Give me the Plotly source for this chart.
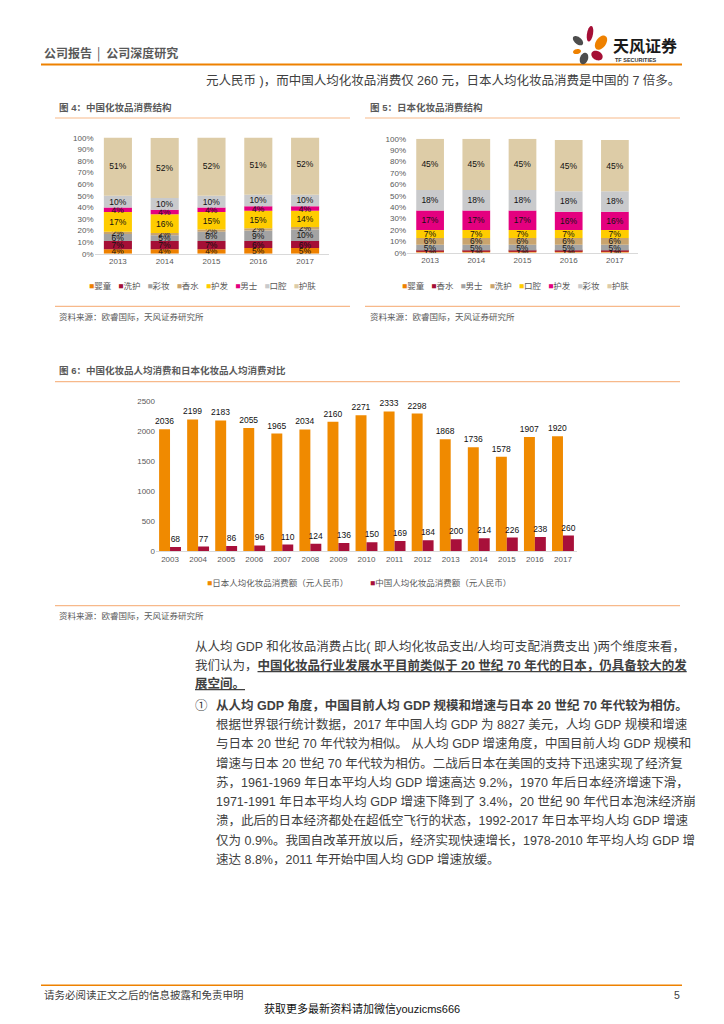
import math
import plotly.graph_objects as go

W, H = 724, 1024
def X(px): return px / W
def Y(py): return 1 - py / H

FONT = "Liberation Sans, Noto Sans CJK SC, sans-serif"

# ---------------- data ----------------
years5 = ["2013", "2014", "2015", "2016", "2017"]

# Figure 4: China consumption structure (%), stacked bottom -> top
cn_names = ["婴童", "洗护", "彩妆", "香水", "护发", "男士", "口腔", "护肤"]
cn_baby = [4, 4, 4, 5, 5]
cn_wash = [7, 7, 7, 6, 6]
cn_makeup = [6, 5, 8, 9, 10]
cn_perfume = [2, 2, 2, 2, 2]
cn_hair = [17, 16, 15, 15, 14]
cn_men = [4, 4, 4, 4, 4]
cn_oral = [10, 10, 10, 10, 10]
cn_skin = [51, 52, 52, 51, 52]

# Figure 5: Japan consumption structure (%), stacked bottom -> top
jp_names = ["婴童", "香水", "男士", "洗护", "口腔", "护发", "彩妆", "护肤"]
jp_baby = [1, 1, 1, 1, 1]
jp_perfume = [1, 1, 1, 1, 1]
jp_men = [5, 5, 5, 5, 5]
jp_wash = [6, 6, 6, 6, 6]
jp_oral = [7, 7, 7, 7, 7]
jp_hair = [17, 17, 17, 16, 16]
jp_makeup = [18, 18, 18, 18, 18]
jp_skin = [45, 45, 45, 45, 45]

# Figure 6: per-capita cosmetics spending (RMB)
years15 = [str(y) for y in range(2003, 2018)]
japan_spend = [2036, 2199, 2183, 2055, 1965, 2034, 2160, 2271, 2333, 2298, 1868, 1736, 1578, 1907, 1920]
china_spend = [68, 77, 86, 96, 110, 124, 136, 150, 169, 184, 200, 214, 226, 238, 260]

pct_ticks = [0, 10, 20, 30, 40, 50, 60, 70, 80, 90, 100]
pct_labels = ["0%", "10%", "20%", "30%", "40%", "50%", "60%", "70%", "80%", "90%", "100%"]
spend_ticks = [0, 500, 1000, 1500, 2000, 2500]

# ---------------- styles ----------------
seg_colors = ["#EE8100", "#A50F36", "#A3A3A3", "#C9A46E", "#FFCC00", "#E4007F", "#C9CACC", "#DDCCA7"]
JP_COLOR = "#F08A00"
CN_COLOR = "#A8103A"
GRAY_TXT = "#595959"
LINE_ORANGE = "#F7B98A"

fig = go.Figure()

cn_series = [cn_baby, cn_wash, cn_makeup, cn_perfume, cn_hair, cn_men, cn_oral, cn_skin]
for name, vals, col in zip(cn_names, cn_series, seg_colors):
    fig.add_trace(go.Bar(x=years5, y=vals, name=name, marker=dict(color=col, line=dict(width=0)),
                         texttemplate="%{y:.0f}%", textposition="inside", insidetextanchor="middle",
                         textangle=0, textfont=dict(size=8.5, color="#111", family=FONT),
                         xaxis="x", yaxis="y", showlegend=False, width=0.6))

jp_series = [jp_baby, jp_perfume, jp_men, jp_wash, jp_oral, jp_hair, jp_makeup, jp_skin]
for name, vals, col in zip(jp_names, jp_series, seg_colors):
    fig.add_trace(go.Bar(x=years5, y=vals, name=name, marker=dict(color=col, line=dict(width=0)),
                         texttemplate="%{y:.0f}%", textposition="inside", insidetextanchor="middle",
                         textangle=0, textfont=dict(size=8.5, color="#111", family=FONT),
                         xaxis="x2", yaxis="y2", showlegend=False, width=0.6))

fig.add_trace(go.Bar(x=years15, y=japan_spend, name="日本人均化妆品消费额（元人民币）",
                     marker=dict(color=JP_COLOR, line=dict(width=0)),
                     text=japan_spend, textposition="outside", textangle=0, cliponaxis=False,
                     textfont=dict(size=8.5, color="#111", family=FONT),
                     xaxis="x3", yaxis="y3", showlegend=False, offsetgroup="jp",
                     offset=-0.39, width=0.39))
fig.add_trace(go.Bar(x=years15, y=china_spend, name="中国人均化妆品消费额（元人民币）",
                     marker=dict(color=CN_COLOR, line=dict(width=0)),
                     text=china_spend, textposition="outside", textangle=0, cliponaxis=False,
                     textfont=dict(size=8.5, color="#111", family=FONT),
                     xaxis="x3", yaxis="y3", showlegend=False, offsetgroup="cn",
                     offset=0.0, width=0.39))

tickfont = dict(size=8, color=GRAY_TXT, family=FONT)
fig.update_layout(
    width=W, height=H, margin=dict(l=0, r=0, t=0, b=0),
    paper_bgcolor="white", plot_bgcolor="white",
    barmode="relative", bargap=0.2, bargroupgap=0,
    font=dict(family=FONT),
    uniformtext=dict(minsize=8, mode="show"),
    xaxis=dict(domain=[X(94.5), X(328.5)], anchor="y", type="category", showline=True,
               linecolor="#D9D9D9", ticks="", tickfont=tickfont, showgrid=False),
    yaxis=dict(domain=[Y(252), Y(135)], anchor="x", range=[0, 100], tickvals=pct_ticks,
               ticktext=pct_labels, showgrid=False, tickfont=tickfont, zeroline=False),
    xaxis2=dict(domain=[X(407), X(638)], anchor="y2", type="category", showline=True,
                linecolor="#D9D9D9", ticks="", tickfont=tickfont, showgrid=False),
    yaxis2=dict(domain=[Y(251), Y(136)], anchor="x2", range=[0, 100], tickvals=pct_ticks,
                ticktext=pct_labels, showgrid=False, tickfont=tickfont, zeroline=False),
    xaxis3=dict(domain=[X(156), X(577)], anchor="y3", type="category", showline=True,
                linecolor="#D9D9D9", ticks="", tickfont=tickfont, showgrid=False),
    yaxis3=dict(domain=[Y(552), Y(401)], anchor="x3", range=[0, 2500], tickvals=spend_ticks,
                showgrid=False, tickfont=tickfont, zeroline=False),
)

shapes = []
def hline(y, x0, x1, color, w=1.2):
    shapes.append(dict(type="line", xref="paper", yref="paper", x0=X(x0), x1=X(x1),
                       y0=Y(y), y1=Y(y), line=dict(color=color, width=w)))

hline(61, 41, 682, "#EE8100", 2)
hline(115, 55, 350, LINE_ORANGE, 1.2)
hline(115, 365, 680, LINE_ORANGE, 1.2)
hline(305, 55, 350, LINE_ORANGE, 1.2)
hline(305, 365, 680, LINE_ORANGE, 1.2)
hline(381, 55, 680, LINE_ORANGE, 1.2)
hline(607, 55, 680, LINE_ORANGE, 1.2)
hline(990, 41, 682, "#EE8100", 1.5)

def petal(cx, cy, rx, ry, ang, color):
    pts = []
    a = math.radians(ang)
    for i in range(36):
        t = 2 * math.pi * i / 36
        px = cx + rx * math.cos(t) * math.cos(a) - ry * math.sin(t) * math.sin(a)
        py = cy + rx * math.cos(t) * math.sin(a) + ry * math.sin(t) * math.cos(a)
        pts.append((X(px), Y(py)))
    path = "M " + " L ".join(f"{p[0]:.5f},{p[1]:.5f}" for p in pts) + " Z"
    shapes.append(dict(type="path", xref="paper", yref="paper", path=path,
                       fillcolor=color, line=dict(width=0)))

petal(578, 37, 6, 3.5, 40, "#4D4D4D")
petal(590, 30, 3, 8, 10, "#A50F36")
petal(601, 39, 5, 8, 35, "#EE8100")
petal(577, 48, 4, 2.5, -10, "#EE8100")
petal(597, 52, 6, 4.5, 30, "#A50F36")
petal(584, 55, 4, 6, 20, "#4D4D4D")

annos = []
def txt(x, y, s, size=12.5, color="#404040", xanchor="left", bold=False):
    if bold:
        s = f"<b>{s}</b>"
    annos.append(dict(x=X(x), y=Y(y), xref="paper", yref="paper", text=s, showarrow=False,
                      xanchor=xanchor, yanchor="middle", align="left",
                      font=dict(size=size, color=color, family=FONT)))

# header
txt(42, 50, "公司报告 │ 公司深度研究", size=12, color="#595959", bold=True)
txt(611, 42, "天风证券", size=16, color="#1A1A1A", bold=True)
txt(613, 57, "TF SECURITIES", size=5.5, color="#333", bold=True)
txt(682, 77, "元人民币 )，而中国人均化妆品消费仅 260 元，日本人均化妆品消费是中国的 7 倍多。",
    size=12.5, xanchor="right")

# figure titles and sources
txt(57, 104, "图 4：中国化妆品消费结构", size=9.5, color="#595959", bold=True)
txt(368, 104, "图 5：日本化妆品消费结构", size=9.5, color="#595959", bold=True)
txt(57, 316, "资料来源：欧睿国际，天风证券研究所", size=8.5, color="#595959")
txt(368, 316, "资料来源：欧睿国际，天风证券研究所", size=8.5, color="#595959")
txt(57, 370, "图 6：中国化妆品人均消费和日本化妆品人均消费对比", size=9.5, color="#595959", bold=True)
txt(57, 617, "资料来源：欧睿国际，天风证券研究所", size=8.5, color="#595959")

def legend_text(names, colors):
    return "   ".join(f"<span style='color:{c}'>■</span>{n}" for n, c in zip(names, colors))

annos.append(dict(x=X(203), y=Y(284), xref="paper", yref="paper", showarrow=False,
                  text=legend_text(cn_names, seg_colors), xanchor="center", yanchor="middle",
                  font=dict(size=8.5, color="#595959", family=FONT)))
annos.append(dict(x=X(515), y=Y(284), xref="paper", yref="paper", showarrow=False,
                  text=legend_text(jp_names, seg_colors), xanchor="center", yanchor="middle",
                  font=dict(size=8.5, color="#595959", family=FONT)))
annos.append(dict(x=X(205), y=Y(584), xref="paper", yref="paper", showarrow=False,
                  text=f"<span style='color:{JP_COLOR}'>■</span>日本人均化妆品消费额（元人民币）",
                  xanchor="left", yanchor="middle", font=dict(size=8.5, color="#595959", family=FONT)))
annos.append(dict(x=X(368), y=Y(584), xref="paper", yref="paper", showarrow=False,
                  text=f"<span style='color:{CN_COLOR}'>■</span>中国人均化妆品消费额（元人民币）",
                  xanchor="left", yanchor="middle", font=dict(size=8.5, color="#595959", family=FONT)))

# body text
body = [
    (193, 648, "从人均 GDP 和化妆品消费占比( 即人均化妆品支出/人均可支配消费支出 )两个维度来看，"),
    (193, 667, "我们认为，<u><b>中国化妆品行业发展水平目前类似于 20 世纪 70 年代的日本，仍具备较大的发</b></u>"),
    (193, 686, "<u><b>展空间。</b></u>"),
    (193, 708, "①"),
    (214, 708, "<b>从人均 GDP 角度，中国目前人均 GDP 规模和增速与日本 20 世纪 70 年代较为相仿。</b>"),
    (214, 727, "根据世界银行统计数据，2017 年中国人均 GDP 为 8827 美元，人均 GDP 规模和增速"),
    (214, 746, "与日本 20 世纪 70 年代较为相似。 从人均 GDP 增速角度，中国目前人均 GDP 规模和"),
    (214, 766, "增速与日本 20 世纪 70 年代较为相仿。二战后日本在美国的支持下迅速实现了经济复"),
    (214, 785, "苏，1961-1969 年日本平均人均 GDP 增速高达 9.2%，1970 年后日本经济增速下滑，"),
    (214, 805, "1971-1991 年日本平均人均 GDP 增速下降到了 3.4%，20 世纪 90 年代日本泡沫经济崩"),
    (214, 824, "溃，此后的日本经济都处在超低空飞行的状态，1992-2017 年日本平均人均 GDP 增速"),
    (214, 844, "仅为 0.9%。我国自改革开放以后，经济实现快速增长，1978-2010 年平均人均 GDP 增"),
    (214, 863, "速达 8.8%，2011 年开始中国人均 GDP 增速放缓。"),
]
for x, y, s in body:
    txt(x, y, s, size=12.5, color="#404040")

# footer
txt(42, 1000, "请务必阅读正文之后的信息披露和免责申明", size=10.5, color="#404040")
txt(682, 1000, "5", size=10.5, color="#404040", xanchor="right")
annos.append(dict(x=X(362), y=Y(1013), xref="paper", yref="paper", showarrow=False,
                  text="获取更多最新资料请加微信youzicms666", xanchor="center", yanchor="middle",
                  font=dict(size=11, color="#111", family=FONT)))

fig.update_layout(shapes=shapes, annotations=annos)
fig.write_html("out.html", config={"displayModeBar": False},
               post_script="document.body.style.margin='0';document.body.style.overflow='hidden';")
